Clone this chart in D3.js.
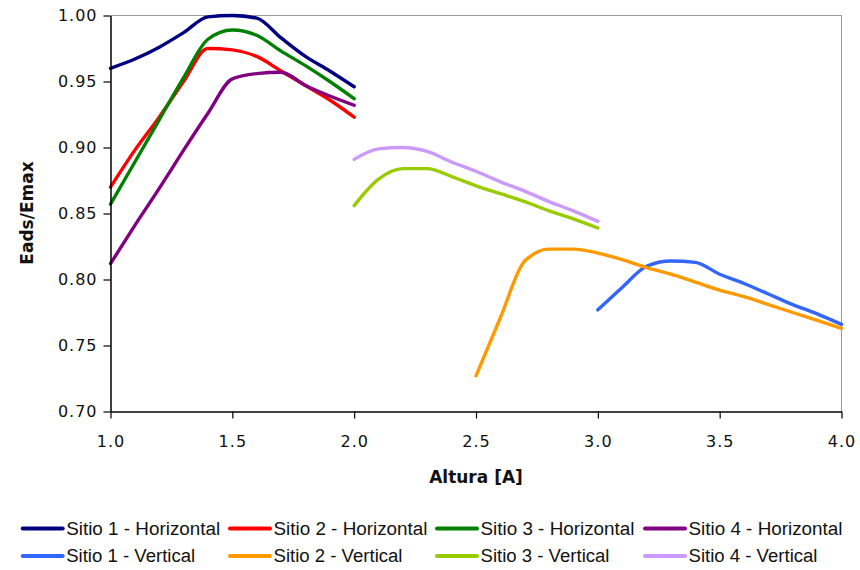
<!DOCTYPE html>
<html>
<head>
<meta charset="utf-8">
<script src="https://cdn.jsdelivr.net/npm/d3@7"></script>
<style>
  html, body { margin: 0; padding: 0; background: #ffffff; }
  svg { display: block; }
</style>
</head>
<body>
<svg id="chart" width="860" height="570"></svg>
<script>
// ---- data ----
const xHorizontal = [1.0, 1.1, 1.2, 1.3, 1.4, 1.5, 1.6, 1.7, 1.8, 1.9, 2.0];
const sitio1Horizontal = [0.960, 0.967, 0.976, 0.987, 0.999, 1.000, 0.998, 0.983, 0.969, 0.958, 0.946];
const sitio2Horizontal = [0.870, 0.898, 0.923, 0.950, 0.975, 0.974, 0.969, 0.958, 0.947, 0.936, 0.923];
const sitio3Horizontal = [0.857, 0.889, 0.921, 0.953, 0.982, 0.989, 0.985, 0.973, 0.962, 0.950, 0.937];
const sitio4Horizontal = [0.812, 0.841, 0.869, 0.898, 0.926, 0.952, 0.956, 0.957, 0.947, 0.939, 0.932];

const xSitio1Vertical = [3.0, 3.1, 3.2, 3.3, 3.4, 3.5, 3.6, 3.7, 3.8, 3.9, 4.0];
const sitio1Vertical = [0.777, 0.794, 0.810, 0.814, 0.813, 0.804, 0.797, 0.789, 0.781, 0.774, 0.766];
const xSitio2Vertical = [2.5, 2.6, 2.7, 2.8, 2.9, 3.0, 3.1, 3.2, 3.3, 3.4, 3.5, 3.6, 3.7, 3.8, 3.9, 4.0];
const sitio2Vertical = [0.727, 0.771, 0.814, 0.823, 0.823, 0.820, 0.815, 0.809, 0.804, 0.798, 0.792, 0.787, 0.781, 0.775, 0.769, 0.763];
const xSitio34Vertical = [2.0, 2.1, 2.2, 2.3, 2.4, 2.5, 2.6, 2.7, 2.8, 2.9, 3.0];
const sitio3Vertical = [0.856, 0.876, 0.884, 0.884, 0.878, 0.871, 0.865, 0.859, 0.852, 0.846, 0.839];
const sitio4Vertical = [0.891, 0.899, 0.900, 0.897, 0.889, 0.882, 0.874, 0.867, 0.859, 0.852, 0.844];

const xTicks = [1.0, 1.5, 2.0, 2.5, 3.0, 3.5, 4.0];
const yTicks = [0.70, 0.75, 0.80, 0.85, 0.90, 0.95, 1.00];

const seriesNames = ["Sitio 1 - Horizontal", "Sitio 2 - Horizontal", "Sitio 3 - Horizontal", "Sitio 4 - Horizontal",
                     "Sitio 1 - Vertical", "Sitio 2 - Vertical", "Sitio 3 - Vertical", "Sitio 4 - Vertical"];
const seriesColors = ["#000080", "#FF0000", "#008000", "#800080", "#3366FF", "#FF9900", "#99CC00", "#CC99FF"];

const seriesX = [xHorizontal, xHorizontal, xHorizontal, xHorizontal,
                 xSitio1Vertical, xSitio2Vertical, xSitio34Vertical, xSitio34Vertical];
const seriesY = [sitio1Horizontal, sitio2Horizontal, sitio3Horizontal, sitio4Horizontal,
                 sitio1Vertical, sitio2Vertical, sitio3Vertical, sitio4Vertical];

const series = seriesNames.map((name, i) => ({
  name, color: seriesColors[i],
  values: seriesX[i].map((xv, j) => ({ x: xv, y: seriesY[i][j] }))
}));

// ---- layout ----
const svg = d3.select("#chart");
const plotLeft = 110.5, plotRight = 841.5, plotTop = 15.5, plotBottom = 411.5;

const x = d3.scaleLinear().domain([1, 4]).range([plotLeft, plotRight]);
const y = d3.scaleLinear().domain([0.70, 1.00]).range([plotBottom, plotTop]);

// plot frame (top & right grey)
svg.append("line").attr("x1", plotLeft).attr("x2", plotRight).attr("y1", plotTop).attr("y2", plotTop)
  .attr("stroke", "#9a9a9a").attr("stroke-width", 1);
svg.append("line").attr("x1", plotRight).attr("x2", plotRight).attr("y1", plotTop).attr("y2", plotBottom)
  .attr("stroke", "#9a9a9a").attr("stroke-width", 1);

// lines
const line = d3.line().x(d => x(d.x)).y(d => y(d.y)).curve(d3.curveMonotoneX);
svg.append("g").selectAll("path").data(series).join("path")
  .attr("d", d => line(d.values))
  .attr("fill", "none")
  .attr("stroke", d => d.color)
  .attr("stroke-width", 3.4)
  .attr("stroke-linejoin", "round")
  .attr("stroke-linecap", "round");

// axes
const tickFont = "'DejaVu Sans', Verdana, sans-serif";
const yAxis = svg.append("g").attr("transform", `translate(${plotLeft},0)`)
  .call(d3.axisLeft(y).tickValues(yTicks).tickFormat(d3.format(".2f")).tickSize(7).tickSizeOuter(0).tickPadding(6));
const xAxis = svg.append("g").attr("transform", `translate(0,${plotBottom})`)
  .call(d3.axisBottom(x).tickValues(xTicks).tickFormat(d3.format(".1f")).tickSize(7).tickSizeOuter(0).tickPadding(17));

[yAxis, xAxis].forEach(g => {
  g.select(".domain").attr("stroke", "#000").attr("stroke-width", 1.5);
  g.selectAll(".tick line").attr("stroke", "#000").attr("stroke-width", 1.2);
  g.selectAll(".tick text").attr("fill", "#111").style("font-family", tickFont)
    .style("font-size", "16px").style("letter-spacing", "1px");
});

// axis titles
svg.append("text").attr("x", 476).attr("y", 483).attr("text-anchor", "middle")
  .style("font-family", tickFont).style("font-weight", "bold").style("font-size", "17px")
  .attr("fill", "#111").text("Altura [A]");
svg.append("text").attr("transform", "translate(33,213) rotate(-90)").attr("text-anchor", "middle")
  .style("font-family", tickFont).style("font-weight", "bold").style("font-size", "17px")
  .attr("fill", "#111").text("Eads/Emax");

// legend
const legendCols = [22.7, 230, 437, 645];
const legendRows = [528.5, 556];
const legend = svg.append("g");
series.forEach((s, i) => {
  const cx = legendCols[i % 4], cy = legendRows[Math.floor(i / 4)];
  legend.append("line").attr("x1", cx).attr("x2", cx + 40).attr("y1", cy).attr("y2", cy)
    .attr("stroke", s.color).attr("stroke-width", 4).attr("stroke-linecap", "round");
  legend.append("text").attr("x", cx + 43.5).attr("y", cy).attr("dy", "0.36em")
    .style("font-family", "'Liberation Sans', Arial, sans-serif").style("font-size", "18px")
    .attr("fill", "#111")
    .attr("textLength", i < 4 ? 154 : 129).attr("lengthAdjust", "spacingAndGlyphs")
    .text(s.name);
});
</script>
</body>
</html>
